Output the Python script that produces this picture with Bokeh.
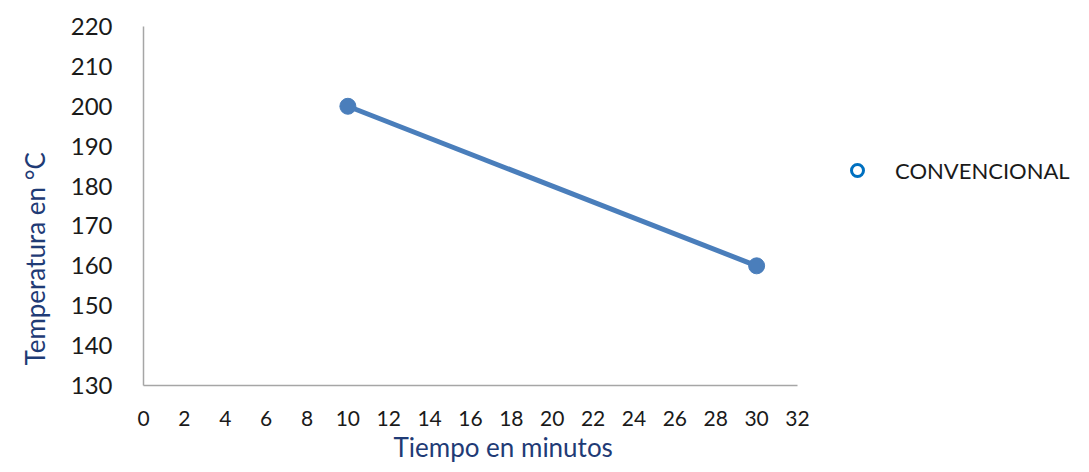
from bokeh.plotting import figure
from bokeh.models import Range1d, FixedTicker, Legend, LegendItem, Title
from bokeh.embed import file_html
from bokeh.resources import INLINE

tiempo = [10, 30]
temperatura = [200, 160]
serie = "CONVENCIONAL"
x_ticks = list(range(0, 33, 2))
y_ticks = list(range(130, 221, 10))
x_title = "Tiempo en minutos"
y_title = "Temperatura en °C"

FONT = "Lato"
LINE_BLUE = "#4a7ebb"
LABEL_BLUE = "#1f3b76"

p = figure(frame_width=654, frame_height=359, output_backend="svg", toolbar_location=None,
           x_range=Range1d(0, 32), y_range=Range1d(130, 220),
           min_border_left=143, min_border_right=276, min_border_top=26, min_border_bottom=71)
p.outline_line_color = None
p.grid.visible = False

# hollow markers (hidden beneath the filled ones) that give the legend its glyph
leg_r = p.scatter(tiempo, temperatura, size=10, fill_color=None, line_color="#0070c0", line_width=3)
p.line(tiempo, temperatura, line_color=LINE_BLUE, line_width=5)
p.scatter(tiempo, temperatura, size=16, fill_color=LINE_BLUE, line_color=LINE_BLUE)

for ax in (p.xaxis[0], p.yaxis[0]):
    ax.axis_line_color = "#a6a6a6"
    ax.axis_line_width = 1.5
    ax.major_tick_line_color = None
    ax.minor_tick_line_color = None
    ax.major_label_text_font = FONT
    ax.major_label_text_color = "#1a1a1a"

p.xaxis.ticker = FixedTicker(ticks=x_ticks)
p.yaxis.ticker = FixedTicker(ticks=y_ticks)
p.xaxis.major_label_text_font_size = "21px"
p.yaxis.major_label_text_font_size = "24px"
p.xaxis.major_label_standoff = 19
p.yaxis.major_label_standoff = 25

p.add_layout(Title(text=x_title, align="left", offset=250, standoff=0,
                   text_font=FONT, text_font_size="26px", text_font_style="normal",
                   text_color=LABEL_BLUE), "below")
p.add_layout(Title(text=y_title, align="left", offset=20, standoff=33,
                   text_font=FONT, text_font_size="26px", text_font_style="normal",
                   text_color=LABEL_BLUE), "left")

legend = Legend(items=[LegendItem(label=serie, renderers=[leg_r])],
                location=(45, 200), padding=0, margin=0,
                glyph_width=30, glyph_height=30, label_height=30,
                label_standoff=23, label_text_font=FONT, label_text_font_size="22px",
                label_text_color="#1a1a1a", border_line_color=None,
                background_fill_alpha=0)
p.add_layout(legend, "right")

open("out.html", "w").write(file_html(p, INLINE))
